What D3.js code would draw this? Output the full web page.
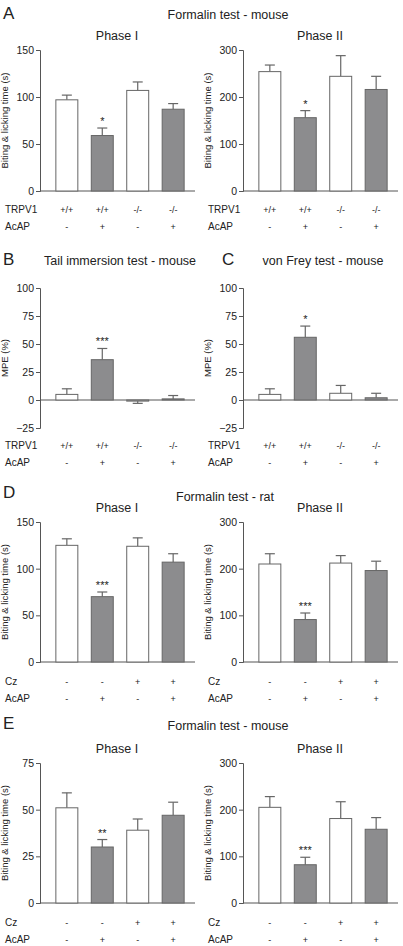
<!DOCTYPE html>
<html><head><meta charset="utf-8">
<script src="https://cdn.jsdelivr.net/npm/d3@7"></script>
<style>body{margin:0;background:#fff}text{font-family:"Liberation Sans",Arial,sans-serif;fill:#222}</style>
</head><body>
<svg width="403" height="946"></svg>
<script>
var svg = d3.select("svg");

// data
var trpv1 = ["+/+", "+/+", "-/-", "-/-"];
var czRow = ["-", "-", "+", "+"];
var acap = ["-", "+", "-", "+"];
var filled = [false, true, false, true];

var aPh1 = [97, 59, 107, 87], aPh1Err = [5, 8, 9, 6], aPh1Sig = ["", "*", "", ""];
var aPh2 = [254, 156, 244, 216], aPh2Err = [14, 15, 44, 28], aPh2Sig = ["", "*", "", ""];
var bMpe = [5, 36, -1, 1], bErr = [5, 10, 2, 3], bSig = ["", "***", "", ""];
var cMpe = [5, 56, 6, 2], cErr = [5, 10, 7, 4], cSig = ["", "*", "", ""];
var dPh1 = [125, 70, 124, 107], dPh1Err = [7, 5, 9, 9], dPh1Sig = ["", "***", "", ""];
var dPh2 = [210, 91, 212, 196], dPh2Err = [22, 14, 16, 20], dPh2Sig = ["", "***", "", ""];
var ePh1 = [51, 30, 39, 47], ePh1Err = [8, 4, 6, 7], ePh1Sig = ["", "**", "", ""];
var ePh2 = [205, 82, 181, 158], ePh2Err = [23, 16, 36, 25], ePh2Sig = ["", "***", "", ""];

function panel(o) {
  var g = svg.append("g").attr("transform", "translate(" + o.x + ",0)");
  var y = d3.scaleLinear().domain(o.domain).range([o.y0, o.y1]);
  var x = d3.scaleBand().domain([0, 1, 2, 3]).range([7, 153]).paddingInner(0.38).paddingOuter(0.25);

  var ya = g.append("g").call(d3.axisLeft(y).tickValues(o.ticks).tickSize(4).tickPadding(2));
  ya.select(".domain").attr("stroke", "#555");
  ya.selectAll(".tick line").attr("stroke", "#555");
  ya.selectAll("text").style("font-size", "10.5px").attr("fill", "#333");
  g.append("line").attr("x1", 0).attr("x2", 155).attr("y1", y(0)).attr("y2", y(0)).attr("stroke", "#555");

  g.append("text").attr("transform", "rotate(-90)").attr("x", -(o.y0 + o.y1) / 2).attr("y", -32)
    .attr("text-anchor", "middle").style("font-size", "9.5px").text(o.ylabel);
  if (o.title) g.append("text").attr("x", 77).attr("y", o.y1 - 10).attr("text-anchor", "middle")
    .style("font-size", "12.5px").text(o.title);

  var bars = g.selectAll(".bar").data(o.vals).enter();
  // error bars
  bars.append("line").attr("x1", function(d, i) { return x(i) + x.bandwidth() / 2; })
    .attr("x2", function(d, i) { return x(i) + x.bandwidth() / 2; })
    .attr("y1", function(d) { return y(d); })
    .attr("y2", function(d, i) { return y(d < 0 ? d - o.err[i] : d + o.err[i]); })
    .attr("stroke", "#666").attr("stroke-width", 1.2);
  bars.append("line").attr("x1", function(d, i) { return x(i) + x.bandwidth() / 2 - 5; })
    .attr("x2", function(d, i) { return x(i) + x.bandwidth() / 2 + 5; })
    .attr("y1", function(d, i) { return y(d < 0 ? d - o.err[i] : d + o.err[i]); })
    .attr("y2", function(d, i) { return y(d < 0 ? d - o.err[i] : d + o.err[i]); })
    .attr("stroke", "#666").attr("stroke-width", 1.2);
  bars.append("rect").attr("x", function(d, i) { return x(i); })
    .attr("width", x.bandwidth())
    .attr("y", function(d) { return Math.min(y(d), y(0)); })
    .attr("height", function(d) { return Math.abs(y(d) - y(0)); })
    .attr("fill", function(d, i) { return filled[i] ? "#8c8c8e" : "#fff"; })
    .attr("stroke", "#666").attr("stroke-width", 1);
  bars.append("text").attr("x", function(d, i) { return x(i) + x.bandwidth() / 2; })
    .attr("y", function(d, i) { return y(d + o.err[i]) - 3; })
    .attr("text-anchor", "middle").style("font-size", "11px")
    .text(function(d, i) { return o.sig[i]; });

  // rows
  [[o.row1name, o.row1, o.rowY], ["AcAP", acap, o.rowY + 17]].forEach(function(r) {
    g.append("text").attr("x", -35).attr("y", r[2]).style("font-size", "10px").text(r[0]);
    g.selectAll(null).data(r[1]).enter().append("text")
      .attr("x", function(d, i) { return x(i) + x.bandwidth() / 2; }).attr("y", r[2])
      .attr("text-anchor", "middle").style("font-size", "9px").attr("fill", "#444")
      .text(function(d) { return d; });
  });
}

function heading(t, x, yy) {
  svg.append("text").attr("x", x).attr("y", yy).attr("text-anchor", "middle").style("font-size", "12.5px").text(t);
}
function letter(t, x, yy) {
  svg.append("text").attr("x", x).attr("y", yy).style("font-size", "17px").text(t);
}

var lab = "Biting & licking time (s)";
letter("A", 3, 19); heading("Formalin test - mouse", 228, 19);
panel({x: 40, y0: 191, y1: 50, domain: [0, 150], ticks: [0, 50, 100, 150], ylabel: lab, title: "Phase I", vals: aPh1, err: aPh1Err, sig: aPh1Sig, row1name: "TRPV1", row1: trpv1, rowY: 213});
panel({x: 243, y0: 191, y1: 50, domain: [0, 300], ticks: [0, 100, 200, 300], ylabel: lab, title: "Phase II", vals: aPh2, err: aPh2Err, sig: aPh2Sig, row1name: "TRPV1", row1: trpv1, rowY: 213});

letter("B", 3, 265); heading("Tail immersion test - mouse", 120, 265);
letter("C", 222, 265); heading("von Frey test - mouse", 323, 265);
panel({x: 40, y0: 428, y1: 288, domain: [-25, 100], ticks: [-25, 0, 25, 50, 75, 100], ylabel: "MPE (%)", vals: bMpe, err: bErr, sig: bSig, row1name: "TRPV1", row1: trpv1, rowY: 449});
panel({x: 243, y0: 428, y1: 288, domain: [-25, 100], ticks: [-25, 0, 25, 50, 75, 100], ylabel: "MPE (%)", vals: cMpe, err: cErr, sig: cSig, row1name: "TRPV1", row1: trpv1, rowY: 449});

letter("D", 3, 498); heading("Formalin test - rat", 225, 501);
panel({x: 40, y0: 662, y1: 522, domain: [0, 150], ticks: [0, 50, 100, 150], ylabel: lab, title: "Phase I", vals: dPh1, err: dPh1Err, sig: dPh1Sig, row1name: "Cz", row1: czRow, rowY: 685});
panel({x: 243, y0: 662, y1: 522, domain: [0, 300], ticks: [0, 100, 200, 300], ylabel: lab, title: "Phase II", vals: dPh2, err: dPh2Err, sig: dPh2Sig, row1name: "Cz", row1: czRow, rowY: 685});

letter("E", 3, 729); heading("Formalin test - mouse", 228, 730);
panel({x: 40, y0: 903, y1: 763, domain: [0, 75], ticks: [0, 25, 50, 75], ylabel: lab, title: "Phase I", vals: ePh1, err: ePh1Err, sig: ePh1Sig, row1name: "Cz", row1: czRow, rowY: 926});
panel({x: 243, y0: 903, y1: 763, domain: [0, 300], ticks: [0, 100, 200, 300], ylabel: lab, title: "Phase II", vals: ePh2, err: ePh2Err, sig: ePh2Sig, row1name: "Cz", row1: czRow, rowY: 926});
</script>
</body></html>
